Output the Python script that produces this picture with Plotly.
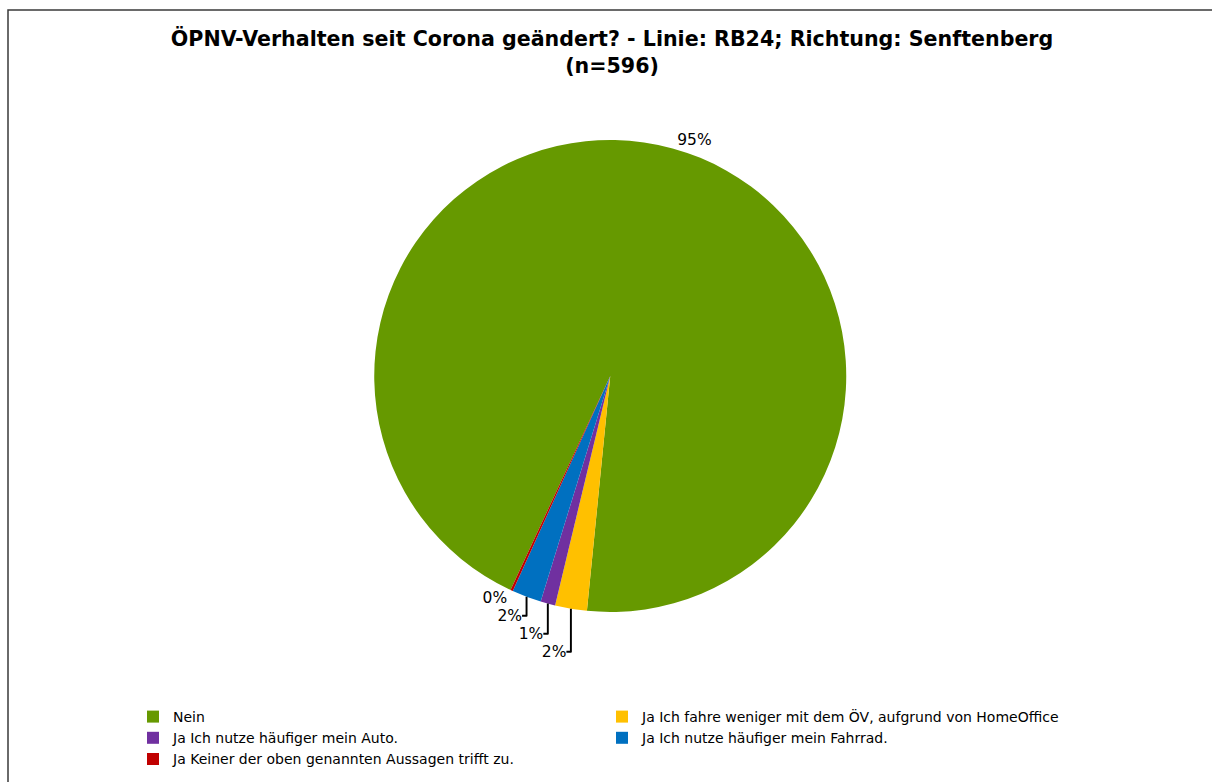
import plotly.graph_objects as go

categories = [
    "Nein",
    "Ja Ich fahre weniger mit dem ÖV, aufgrund von HomeOffice",
    "Ja Ich nutze häufiger mein Auto.",
    "Ja Ich nutze häufiger mein Fahrrad.",
    "Ja Keiner der oben genannten Aussagen trifft zu.",
]
counts = [564, 13, 6, 12, 1]
colors = ["#669900", "#FFC000", "#7030A0", "#0070C0", "#C00000"]

W, H = 1212, 782

fig = go.Figure(
    go.Pie(
        labels=categories,
        values=counts,
        sort=False,
        direction="clockwise",
        rotation=205,
        marker=dict(colors=colors, line=dict(width=0)),
        textinfo="percent",
        texttemplate="%{percent:.0%}",
        textposition="outside",
        outsidetextfont=dict(size=15.5, color="#000000", family="DejaVu Sans"),
        domain=dict(x=[0.007, 1], y=[1 - 612 / H, 1 - 140 / H]),
        showlegend=True,
        hoverinfo="label+percent",
    )
)

fig.update_layout(
    width=W,
    height=H,
    autosize=False,
    margin=dict(l=0, r=0, t=0, b=0, autoexpand=False),
    paper_bgcolor="white",
    plot_bgcolor="white",
    font=dict(family="DejaVu Sans", size=14, color="#000000"),
    title=dict(
        text="<b>ÖPNV-Verhalten seit Corona geändert? - Linie: RB24; Richtung: Senftenberg<br>(n=596)</b>",
        x=0.505,
        xanchor="center",
        xref="container",
        y=1 - 46 / H,
        yanchor="top",
        yref="container",
        font=dict(family="DejaVu Sans", size=20.6, color="#000000"),
    ),
    legend=dict(
        orientation="h",
        xref="container",
        yref="container",
        x=133 / W,
        xanchor="left",
        y=1 - 701 / H,
        yanchor="top",
        entrywidth=424,
        entrywidthmode="pixels",
        font=dict(family="DejaVu Sans", size=14, color="#000000"),
        itemclick=False,
        traceorder="normal",
        bgcolor="rgba(0,0,0,0)",
    ),
    shapes=[
        dict(
            type="rect",
            xref="paper",
            yref="paper",
            x0=8 / W,
            x1=1.02,
            y0=-0.02,
            y1=1 - 10 / H,
            line=dict(color="#3a3a3a", width=1.5),
            fillcolor="rgba(0,0,0,0)",
            layer="below",
        )
    ],
)

fig.write_html(
    "out.html",
    config={"displayModeBar": False},
    post_script="document.body.style.margin='0';document.body.style.overflow='hidden';",
)
